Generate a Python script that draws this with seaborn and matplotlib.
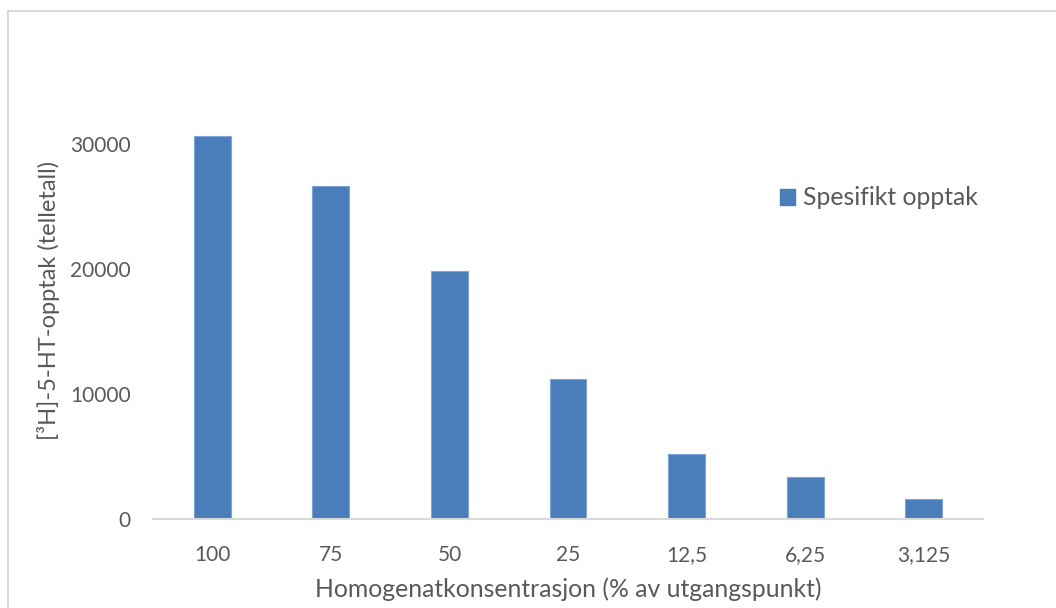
import matplotlib
matplotlib.use("Agg")
import matplotlib.pyplot as plt
from matplotlib.patches import Rectangle, Patch
import seaborn as sns
import pandas as pd

# Data: specific [3H]-5-HT uptake per homogenate concentration
categories = ["100", "75", "50", "25", "12,5", "6,25", "3,125"]
uptake = [30600, 26600, 19800, 11200, 5200, 3330, 1620]
y_ticks = [0, 10000, 20000, 30000]

series_name = "Spesifikt opptak"
bar_color = "#4A7EBB"
text_color = "#595959"
line_color = "#D9D9D9"

sns.set_theme(style="white")
plt.rcParams["font.family"] = ["Lato", "DejaVu Sans"]

df = pd.DataFrame({"kons": categories, "opptak": uptake})

fig = plt.figure(figsize=(10.56, 6.08), dpi=100)
ax = fig.add_axes([153 / 1056, 1 - 519 / 608, (983 - 153) / 1056, (519 - 81) / 608])

sns.barplot(data=df, x="kons", y="opptak", order=categories, color=bar_color,
            width=0.312, saturation=1, edgecolor="#7FA4D3", linewidth=0.8, ax=ax)

ax.set_ylim(0, 35000)
ax.set_xlim(-0.5, len(categories) - 0.5)
ax.set_yticks(y_ticks)
ax.set_yticklabels([str(v) for v in y_ticks])

for side in ["top", "right", "left"]:
    ax.spines[side].set_visible(False)
ax.spines["bottom"].set_color(line_color)
ax.spines["bottom"].set_linewidth(1.5)
ax.tick_params(axis="both", length=0, labelsize=15, colors=text_color)
ax.tick_params(axis="y", pad=16)
ax.tick_params(axis="x", pad=19)

ax.set_xlabel("Homogenatkonsentrasjon (% av utgangspunkt)", fontsize=17.8,
              color=text_color, labelpad=9)
ax.set_ylabel("[³H]-5-HT-opptak (telletall)", fontsize=17,
              color=text_color, labelpad=7)

handle = Patch(facecolor=bar_color, edgecolor=bar_color)
fig.legend([handle], [series_name], loc="center left",
           bbox_to_anchor=(780 / 1056, 1 - 198 / 608), frameon=False,
           fontsize=17.8, labelcolor=text_color, handlelength=0.6,
           handleheight=0.6, handletextpad=0.35, borderpad=0, borderaxespad=0)

# Chart border
fig.add_artist(Rectangle((8 / 1056, -0.05), 1.1, 1 - 10.5 / 608 + 0.05,
                         transform=fig.transFigure, fill=False,
                         edgecolor=line_color, linewidth=1.5, clip_on=False))

fig.savefig("out.png", dpi=100, facecolor="white")
